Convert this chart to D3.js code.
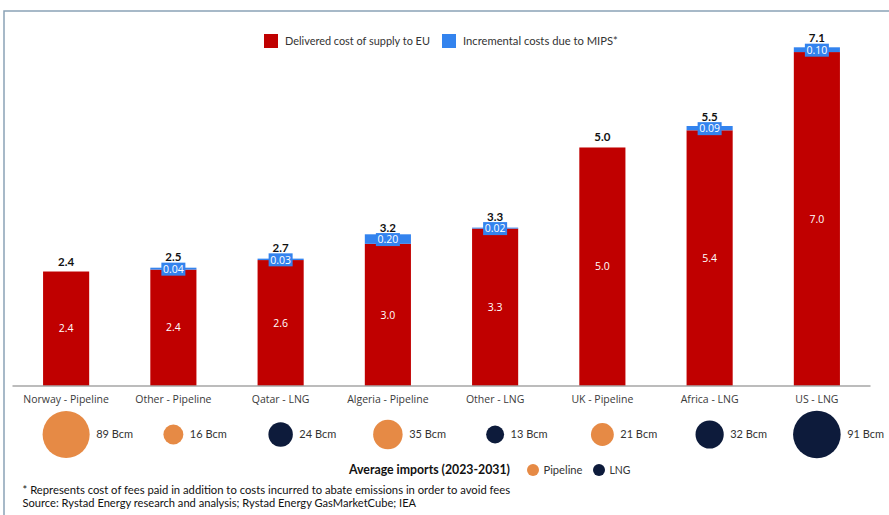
<!DOCTYPE html>
<html>
<head>
<meta charset="utf-8">
<script src="https://cdn.jsdelivr.net/npm/d3@7"></script>
<style>
  html, body { margin: 0; padding: 0; background: #fff; }
  svg { display: block; }
</style>
</head>
<body>
<svg id="chart" width="889" height="515"></svg>
<script>
// ---------- data ----------
const categories = ["Norway - Pipeline", "Other - Pipeline", "Qatar - LNG", "Algeria - Pipeline",
                    "Other - LNG", "UK - Pipeline", "Africa - LNG", "US - LNG"];
const deliveredCost = [2.4, 2.44, 2.64, 2.98, 3.3, 5.0, 5.36, 7.0];
const mipsCost      = [0, 0.04, 0.03, 0.20, 0.02, 0, 0.09, 0.10];
const avgImports    = [89, 16, 24, 35, 13, 21, 32, 91];
const importType    = ["Pipeline", "Pipeline", "LNG", "Pipeline", "LNG", "Pipeline", "LNG", "LNG"];
const seriesNames   = ["Delivered cost of supply to EU", "Incremental costs due to MIPS*"];
const importTypes   = ["Pipeline", "LNG"];
const bubbleTitle   = "Average imports (2023-2031)";
const footnotes = [
  "* Represents cost of fees paid in addition to costs incurred to abate emissions in order to avoid fees",
  "Source: Rystad Energy research and analysis; Rystad Energy GasMarketCube; IEA"
];

// ---------- styles ----------
const RED = "#c00000", BLUE = "#3383ee", ORANGE = "#e68a45", NAVY = "#0d1b3b";
const FONT = "Lato, 'Open Sans', sans-serif";
const FONT2 = "'Open Sans', Lato, sans-serif";

const svg = d3.select("#chart");
const data = categories.map((c, i) => ({
  cat: c, red: deliveredCost[i], blue: mipsCost[i],
  total: +(deliveredCost[i] + mipsCost[i]).toFixed(2),
  imp: avgImports[i], type: importType[i]
}));

// frame
svg.append("path").attr("d", "M4,515V11H889")
  .attr("fill", "none").attr("stroke", "#8aa2b6").attr("stroke-width", 1.5);

// scales
const x = d3.scaleBand().domain(categories).range([12.5, 870.5])
  .paddingInner(0.57).paddingOuter(0.285);
const y = d3.scaleLinear().domain([0, 7.1]).range([386, 47.3]);
const r = d3.scaleSqrt().domain([0, 91]).range([0, 23.8]);
const color = d3.scaleOrdinal().domain(importTypes).range([ORANGE, NAVY]);
const f1 = d3.format(".1f"), f2 = d3.format(".2f");

function fit(sel, w) {
  sel.each(function() {
    const cur = this.getComputedTextLength();
    const fs = parseFloat(d3.select(this).attr("font-size"));
    if (cur > 0) d3.select(this).attr("font-size", (fs * w / cur).toFixed(2));
  });
}

const boxH = 13;
const blueMid = d => (y(d.red) + y(d.total)) / 2 + 0.5;

// bars
const g = svg.append("g");
const bars = g.selectAll("g.bar").data(data).join("g").attr("class", "bar");
bars.append("rect")
  .attr("x", d => x(d.cat)).attr("width", x.bandwidth())
  .attr("y", d => y(d.red)).attr("height", d => y(0) - y(d.red))
  .attr("fill", RED);
bars.filter(d => d.blue > 0).append("rect")
  .attr("x", d => x(d.cat)).attr("width", x.bandwidth())
  .attr("y", d => y(d.total)).attr("height", d => y(d.red) - y(d.total))
  .attr("fill", BLUE);

// red value labels
bars.append("text")
  .attr("x", d => x(d.cat) + x.bandwidth() / 2)
  .attr("y", d => (y(d.red) + y(0)) / 2)
  .attr("dy", "0.35em").attr("text-anchor", "middle")
  .attr("font-family", FONT2).attr("font-size", 10.5).attr("fill", "#fff")
  .text(d => f1(d.red));

// blue value label boxes
const bl = bars.filter(d => d.blue > 0).append("g")
  .attr("transform", d => `translate(${x(d.cat) + x.bandwidth() / 2},${blueMid(d)})`);
bl.append("rect").attr("x", -12).attr("y", -boxH / 2).attr("width", 24).attr("height", boxH).attr("fill", BLUE);
bl.append("text").attr("text-anchor", "middle").attr("dy", "0.36em")
  .attr("font-family", FONT2).attr("font-size", 10.5).attr("fill", "#fff")
  .text(d => f2(d.blue));

// total labels
bars.append("text")
  .attr("x", d => x(d.cat) + x.bandwidth() / 2)
  .attr("y", d => d.blue > 0 ? Math.min(blueMid(d) - boxH / 2, y(d.total)) - 1.5 : y(d.total) - 6)
  .attr("text-anchor", "middle")
  .attr("font-family", FONT).attr("font-weight", "bold").attr("font-size", 11.5).attr("fill", "#111")
  .text(d => f1(d.total));

// x axis
svg.append("line").attr("x1", 12.5).attr("x2", 870.5).attr("y1", 386).attr("y2", 386)
  .attr("stroke", "#a6a6a6").attr("stroke-width", 1.5);
svg.append("g").selectAll("text").data(categories).join("text")
  .attr("x", d => x(d) + x.bandwidth() / 2).attr("y", 399.5).attr("dy", "0.35em")
  .attr("text-anchor", "middle").attr("font-family", FONT2).attr("font-size", 10.5)
  .attr("fill", "#3a3a3a").text(d => d);

// bubbles
const bub = svg.append("g").selectAll("g").data(data).join("g")
  .attr("transform", d => `translate(${x(d.cat) + x.bandwidth() / 2},434.5)`);
bub.append("circle").attr("r", d => r(d.imp)).attr("fill", d => color(d.type));
bub.append("text").attr("x", d => r(d.imp) + 6.5).attr("dy", "0.35em")
  .attr("font-family", FONT).attr("font-size", 11).attr("fill", "#333")
  .text(d => d.imp + " Bcm");

// bubble legend
const bt = svg.append("text").attr("x", 349).attr("y", 470).attr("dy", "0.35em")
  .attr("font-family", FONT).attr("font-weight", "bold").attr("font-size", 12).attr("fill", "#111")
  .text(bubbleTitle);
fit(bt, 161);
const bLegX = [533, 599], bLegTextW = [39, 21];
importTypes.forEach((t, i) => {
  svg.append("circle").attr("cx", bLegX[i]).attr("cy", 470).attr("r", 6).attr("fill", color(t));
  const tt = svg.append("text").attr("x", bLegX[i] + 10.5).attr("y", 470).attr("dy", "0.35em")
    .attr("font-family", FONT).attr("font-size", 11).attr("fill", "#333").text(t);
  fit(tt, bLegTextW[i]);
});

// top legend
const legX = [264, 442], legW = [145, 155];
seriesNames.forEach((s, i) => {
  svg.append("rect").attr("x", legX[i]).attr("y", 34).attr("width", 14).attr("height", 14)
    .attr("fill", i === 0 ? RED : BLUE);
  const t = svg.append("text").attr("x", legX[i] + 21).attr("y", 41).attr("dy", "0.35em")
    .attr("font-family", FONT).attr("font-size", 12).attr("fill", "#333").text(s);
  fit(t, legW[i]);
});

// footnotes
const fnY = [490, 503.5], fnW = [488, 394];
footnotes.forEach((s, i) => {
  const t = svg.append("text").attr("x", 22.5).attr("y", fnY[i]).attr("dy", "0.35em")
    .attr("font-family", FONT).attr("font-size", 11).attr("fill", "#111").text(s);
  fit(t, fnW[i]);
});
</script>
</body>
</html>
